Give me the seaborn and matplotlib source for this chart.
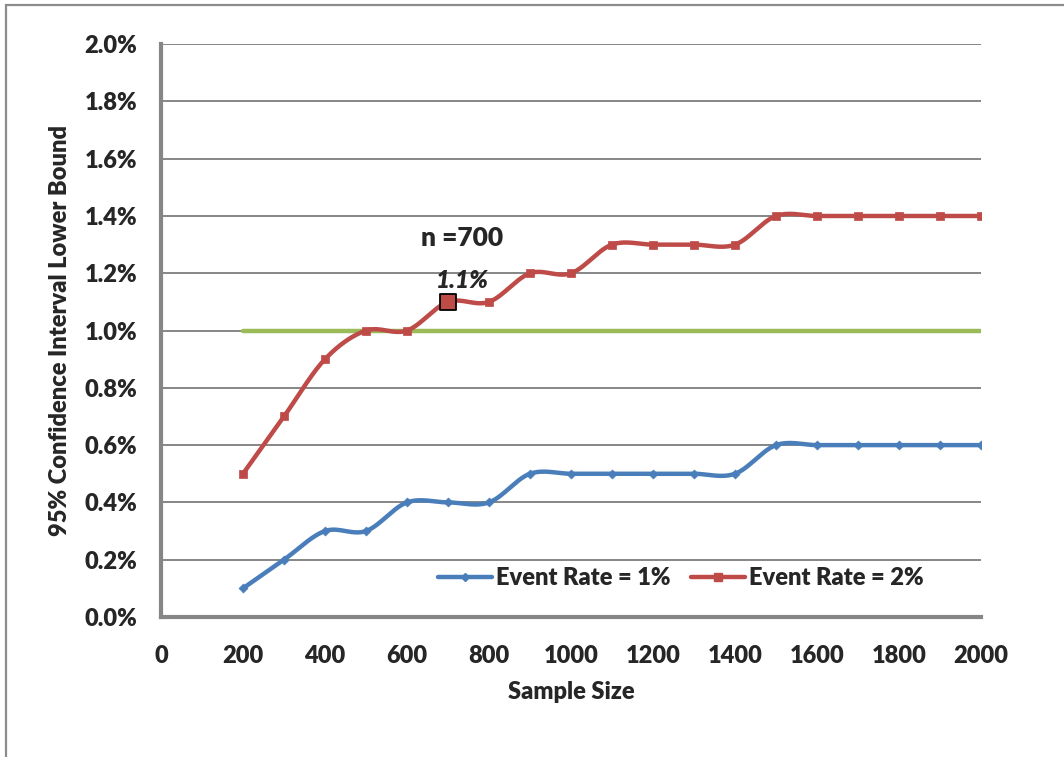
import numpy as np
import pandas as pd
import matplotlib
matplotlib.use("Agg")
import matplotlib.pyplot as plt
import seaborn as sns
from matplotlib.lines import Line2D
from matplotlib.patches import Rectangle
from matplotlib.ticker import FuncFormatter, MultipleLocator

sample_size = [200, 300, 400, 500, 600, 700, 800, 900, 1000, 1100,
               1200, 1300, 1400, 1500, 1600, 1700, 1800, 1900, 2000]
rate_1pct = [0.1, 0.2, 0.3, 0.3, 0.4, 0.4, 0.4, 0.5, 0.5, 0.5,
             0.5, 0.5, 0.5, 0.6, 0.6, 0.6, 0.6, 0.6, 0.6]
rate_2pct = [0.5, 0.7, 0.9, 1.0, 1.0, 1.1, 1.1, 1.2, 1.2, 1.3,
             1.3, 1.3, 1.3, 1.4, 1.4, 1.4, 1.4, 1.4, 1.4]
threshold = 1.0
highlight_n = 700
highlight_value = 1.1

BLUE = "#4A7EBB"
RED = "#BE4B48"
GREEN = "#9BBB59"
GRID = "#868686"
FS = 17
WEIGHT = "heavy"

sns.set_theme(style="white")
plt.rcParams["font.family"] = ["Lato", "DejaVu Sans"]
plt.rcParams["font.weight"] = WEIGHT


def smooth(x, y, steps=30):
    """Cardinal (Catmull-Rom) spline through the points, like a smoothed line chart."""
    x = np.asarray(x, float)
    y = np.asarray(y, float)
    px = np.concatenate([[x[0]], x, [x[-1]]])
    py = np.concatenate([[y[0]], y, [y[-1]]])
    xs, ys = [], []
    for i in range(1, len(px) - 2):
        p0 = np.array([px[i - 1], py[i - 1]])
        p1 = np.array([px[i], py[i]])
        p2 = np.array([px[i + 1], py[i + 1]])
        p3 = np.array([px[i + 2], py[i + 2]])
        c1 = p1 + (p2 - p0) / 6.0
        c2 = p2 - (p3 - p1) / 6.0
        t = np.linspace(0, 1, steps)[:, None]
        pts = ((1 - t) ** 3) * p1 + 3 * ((1 - t) ** 2) * t * c1 \
            + 3 * (1 - t) * t ** 2 * c2 + t ** 3 * p2
        xs.append(pts[:, 0])
        ys.append(pts[:, 1])
    return np.concatenate(xs), np.concatenate(ys)


df = pd.DataFrame({"n": sample_size, "r1": rate_1pct, "r2": rate_2pct})

fig = plt.figure(figsize=(10.64, 7.57), dpi=100)
ax = fig.add_axes([0.1513, 0.185, 0.7707, 0.7567])

# chart-area frame
fig.patches.append(Rectangle((6 / 1064, -0.1), 1.2, 1 - 5 / 757 + 0.1,
                             transform=fig.transFigure, fill=False,
                             edgecolor="#8C8C8C", linewidth=1.6, zorder=0))

ax.set_xlim(0, 2000)
ax.set_ylim(0, 2.0)
ax.yaxis.set_major_locator(MultipleLocator(0.2))
ax.xaxis.set_major_locator(MultipleLocator(200))
ax.yaxis.set_major_formatter(FuncFormatter(lambda v, p: f"{v:.1f}%"))
ax.grid(axis="y", color=GRID, linewidth=1.4)
ax.set_axisbelow(True)
for s in ["top", "right"]:
    ax.spines[s].set_visible(False)
for s in ["left", "bottom"]:
    ax.spines[s].set_color(GRID)
    ax.spines[s].set_linewidth(3)
ax.tick_params(axis="both", length=0, labelsize=FS)
ax.tick_params(axis="x", pad=20)
ax.tick_params(axis="y", pad=17)
for lab in ax.get_xticklabels() + ax.get_yticklabels():
    lab.set_fontweight(WEIGHT)

# threshold line
sns.lineplot(x=[sample_size[0], sample_size[-1]], y=[threshold, threshold],
             ax=ax, color=GREEN, linewidth=3.2, zorder=2)

# smoothed series with markers
sx, sy = smooth(df["n"], df["r1"])
ax.plot(sx, sy, color=BLUE, linewidth=3.2, zorder=3, solid_capstyle="butt")
sns.scatterplot(data=df, x="n", y="r1", ax=ax, marker="D", s=22,
                color=BLUE, edgecolor=BLUE, zorder=4)
sx, sy = smooth(df["n"], df["r2"])
ax.plot(sx, sy, color=RED, linewidth=3.2, zorder=3, solid_capstyle="butt")
sns.scatterplot(data=df, x="n", y="r2", ax=ax, marker="s", s=40,
                color=RED, edgecolor=RED, zorder=4)

# highlighted point
ax.scatter([highlight_n], [highlight_value], marker="s", s=120, color=RED,
           edgecolor="black", linewidth=1.3, zorder=5)
ax.text(highlight_n + 35, highlight_value + 0.076, f"{highlight_value:.1f}%",
        ha="center", va="center", fontsize=17.5, fontweight=WEIGHT,
        fontstyle="italic", zorder=6)
ax.text(highlight_n + 34, highlight_value + 0.223, f"n ={highlight_n}",
        ha="center", va="center", fontsize=19, fontweight=WEIGHT, zorder=6)

ax.set_xlabel("Sample Size", fontsize=FS, fontweight=WEIGHT, labelpad=10)
ax.set_ylabel("95% Confidence Interval Lower Bound", fontsize=FS,
              fontweight=WEIGHT, labelpad=10)

handles = [
    Line2D([], [], color=BLUE, linewidth=3.2, marker="D", markersize=4.5),
    Line2D([], [], color=RED, linewidth=3.2, marker="s", markersize=6),
]
leg = ax.legend(handles, ["Event Rate = 1%", "Event Rate = 2%"], ncol=2,
                loc="center", bbox_to_anchor=(0.634, 0.068), frameon=False,
                handlelength=2.3, handletextpad=0.16, columnspacing=0.86,
                prop={"size": FS, "weight": WEIGHT})

fig.savefig("out.png", dpi=100, facecolor="white")
